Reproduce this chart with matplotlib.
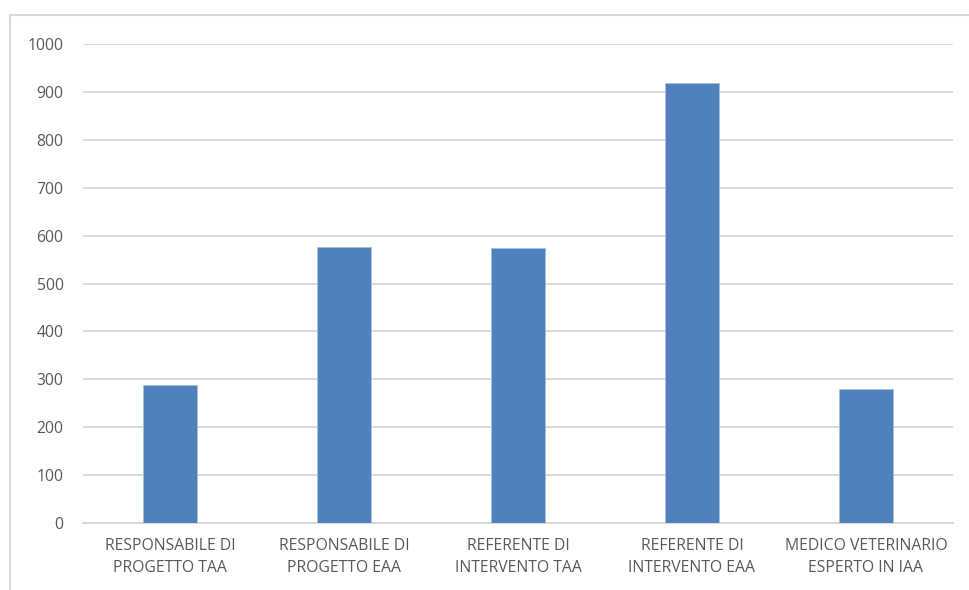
import matplotlib
matplotlib.use("Agg")
import matplotlib.pyplot as plt
from matplotlib.patches import Rectangle

categories = ["RESPONSABILE DI\nPROGETTO TAA", "RESPONSABILE DI\nPROGETTO EAA",
              "REFERENTE DI\nINTERVENTO TAA", "REFERENTE DI\nINTERVENTO EAA",
              "MEDICO VETERINARIO\nESPERTO IN IAA"]
values = [288, 577, 575, 919, 279]
yticks = [0, 100, 200, 300, 400, 500, 600, 700, 800, 900, 1000]

plt.rcParams['font.family'] = ['Open Sans', 'DejaVu Sans']

fig = plt.figure(figsize=(9.69, 5.90), dpi=100)
fig.patches.append(Rectangle((10/969, -0.1), 1.2, 1 - 15/590 + 0.1,
                             transform=fig.transFigure, fill=False,
                             edgecolor='#D9D9D9', linewidth=1.5))
ax = fig.add_axes([83/969, 1 - 523/590, (953 - 83)/969, (523 - 44)/590])

x = range(len(categories))
ax.bar(x, values, width=0.31, color='#4F81BD', edgecolor='#A7C0DE', linewidth=0.6, zorder=3)
ax.set_xlim(-0.5, len(categories) - 0.5)
ax.set_ylim(0, 1000)
ax.set_yticks(yticks)
ax.set_xticks(list(x))
ax.set_xticklabels(categories, fontsize=11.3, color='#595959', linespacing=1.45)
ax.tick_params(axis='y', labelsize=11.3, labelcolor='#595959', length=0, pad=14)
ax.tick_params(axis='x', length=0, pad=11)
ax.grid(axis='y', color='#D9D9D9', linewidth=1.4, zorder=0)
for s in ['top', 'right', 'left']:
    ax.spines[s].set_visible(False)
ax.spines['bottom'].set_color('#D9D9D9')
ax.spines['bottom'].set_linewidth(1.4)

fig.savefig('out.png', dpi=100)
